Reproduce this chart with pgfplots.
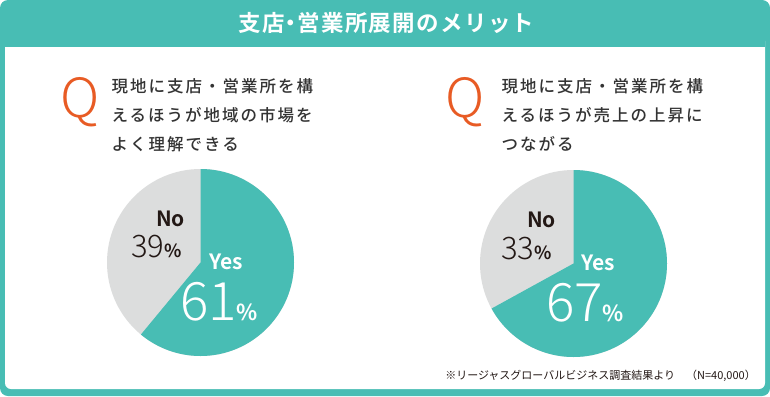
\documentclass[border=0pt]{standalone}
\usepackage{pgfplots}
\pgfplotsset{compat=1.18}
\usepackage{pgfplotstable}
\usepackage{fontspec}
\setmainfont{Noto Sans CJK JP}
\newfontfamily\jpbold{Noto Sans CJK JP Bold}
\newfontfamily\jptitle{Noto Sans CJK JP Bold}[LetterSpace=6]
\newfontfamily\jpq{Noto Sans CJK JP Medium}[LetterSpace=12]
\newfontfamily\jplight{Noto Sans CJK JP Light}
\definecolor{tealpie}{HTML}{48BDB4}
\definecolor{graypie}{HTML}{DCDDDD}
\definecolor{qorange}{HTML}{E85B24}
\definecolor{darktext}{HTML}{231815}
\definecolor{qtext}{HTML}{333333}

\pgfplotstableread{
pie yes no
1 61 39
2 67 33
}\piedata

\newcommand{\pieaxis}[3]{%
\begin{axis}[at={(#1pt,-#2pt)}, anchor=center, width=187pt, height=187pt,
  scale only axis, hide axis, xmin=-1, xmax=1, ymin=-1, ymax=1, clip=false]
\addplot[draw=none, forget plot] coordinates {(-1,-1) (1,1)};
\fill[graypie] (axis cs:0,0) circle[radius=93.5pt];
\fill[tealpie] (axis cs:0,0) -- (axis cs:0,1) arc[start angle=90, end angle={90-3.6*#3}, radius=93.5pt] -- cycle;
\end{axis}}

\begin{document}
\begin{tikzpicture}
\pgfplotstablegetelem{0}{yes}\of\piedata \edef\yesA{\pgfplotsretval}
\pgfplotstablegetelem{0}{no}\of\piedata \edef\noA{\pgfplotsretval}
\pgfplotstablegetelem{1}{yes}\of\piedata \edef\yesB{\pgfplotsretval}
\pgfplotstablegetelem{1}{no}\of\piedata \edef\noB{\pgfplotsretval}
\begin{scope}[x=1pt,y=-1pt]
\fill[tealpie, rounded corners=8pt] (0,0) rectangle (770,396);
\fill[white, rounded corners=6pt] (5,35) rectangle (765,389);
\fill[tealpie] (5,30) rectangle (765,47);
\node[anchor=base, inner sep=0, text=white] at (386.5,32) {\fontsize{22.5}{26}\jptitle 支店\kern-5pt・\kern-5pt営業所展開のメリット};
% Q marks
\node[anchor=base west, inner sep=0, text=qorange] at (60.5,117) {\fontsize{54}{60}\jplight Q};
\node[anchor=base west, inner sep=0, text=qorange] at (445.5,117) {\fontsize{54}{60}\jplight Q};
% question texts
\foreach \t [count=\i] in {現地に支店・営業所を構,えるほうが地域の市場を,よく理解できる}
  \node[anchor=base west, inner sep=0, text=qtext] at (111.5,92+29.2*\i-29.2) {\fontsize{16.5}{20}\jpq \t};
\foreach \t [count=\i] in {現地に支店・営業所を構,えるほうが売上の上昇に,つながる}
  \node[anchor=base west, inner sep=0, text=qtext] at (501.5,92+29.2*\i-29.2) {\fontsize{16.5}{20}\jpq \t};
% footnote
\node[anchor=base east, inner sep=0, text=darktext] at (756,379) {\fontsize{11}{13}\selectfont ※リージャスグローバルビジネス調査結果より　（N=40,000）};
\end{scope}
\pieaxis{200.5}{262.5}{\yesA}
\pieaxis{573.5}{263.5}{\yesB}
\begin{scope}[x=1pt,y=-1pt]
% pie 1 labels
\node[anchor=base west, inner sep=0, text=white] at (209,269) {\fontsize{21}{24}\jpbold Yes};
\node[anchor=base west, inner sep=0, text=white] at (180,320) {\fontsize{53}{60}\jplight\yesA\fontsize{22}{24}\jpbold\%};
\node[anchor=base west, inner sep=0, text=darktext] at (156,226) {\fontsize{21}{24}\jpbold No};
\node[anchor=base west, inner sep=0, text=darktext] at (131,257) {\fontsize{31}{34}\jplight\noA\fontsize{18}{20}\jpbold\%};
% pie 2 labels
\node[anchor=base west, inner sep=0, text=white] at (581,270) {\fontsize{21}{24}\jpbold Yes};
\node[anchor=base west, inner sep=0, text=white] at (546,321) {\fontsize{53}{60}\jplight\yesB\fontsize{22}{24}\jpbold\%};
\node[anchor=base west, inner sep=0, text=darktext] at (527,227) {\fontsize{21}{24}\jpbold No};
\node[anchor=base west, inner sep=0, text=darktext] at (501,259) {\fontsize{31}{34}\jplight\noB\fontsize{18}{20}\jpbold\%};
\end{scope}
\end{tikzpicture}
\end{document}
